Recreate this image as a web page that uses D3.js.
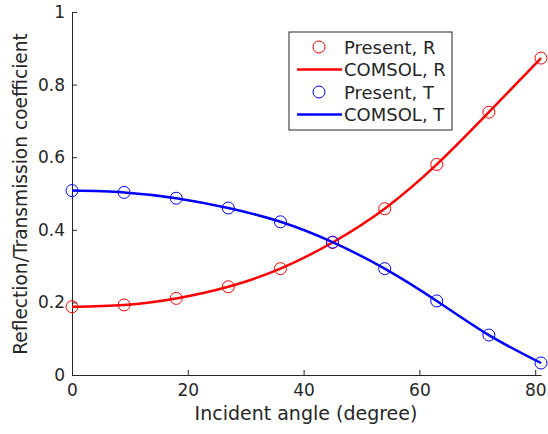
<!DOCTYPE html>
<html>
<head>
<meta charset="utf-8">
<script src="https://cdn.jsdelivr.net/npm/d3@7"></script>
<style>
    body { margin: 0; background: #fff; }
    svg text { font-family: "DejaVu Sans", sans-serif; fill: #262626; }
    .axis path, .axis line { stroke: #262626; }
</style>
</head>
<body>
<svg id="chart" width="548" height="434"></svg>
<script>
// incident angles (degree)
const angles = [0, 9, 18, 27, 36, 45, 54, 63, 72, 81];
// present method
const presentR = [0.188, 0.193, 0.211, 0.243, 0.293, 0.365, 0.458, 0.580, 0.724, 0.873];
const presentT = [0.508, 0.503, 0.487, 0.460, 0.422, 0.366, 0.293, 0.204, 0.110, 0.033];
// COMSOL reference
const comsolR = [0.188, 0.193, 0.211, 0.243, 0.293, 0.365, 0.458, 0.580, 0.724, 0.873];
const comsolT = [0.508, 0.503, 0.487, 0.460, 0.422, 0.366, 0.293, 0.204, 0.110, 0.033];
const xTicks = [0, 20, 40, 60, 80];
const yTicks = [0, 0.2, 0.4, 0.6, 0.8, 1];

const margin = {top: 12, right: 6, bottom: 59, left: 72};
const height = 434 - margin.top - margin.bottom;

const svg = d3.select("#chart");
const chart = svg.append("g").attr("transform", "translate(" + margin.left + "," + margin.top + ")");

const xScale = d3.scaleLinear().domain([0, 81]).range([0, 469]);
const yScale = d3.scaleLinear().domain([0, 1]).range([height, 0]);

chart.append("g")
    .attr("class", "x axis")
    .attr("transform", "translate(0," + height + ")")
    .call(d3.axisBottom(xScale).tickValues(xTicks).tickSizeInner(-5).tickSizeOuter(0).tickPadding(9))
    .call(g => g.selectAll("text").style("font-size", "17px"));

chart.append("g")
    .attr("class", "y axis")
    .call(d3.axisLeft(yScale).tickValues(yTicks).tickFormat(d3.format("~g")).tickSizeInner(-5).tickSizeOuter(0).tickPadding(7))
    .call(g => g.selectAll("text").style("font-size", "17px"));

chart.append("text")
    .attr("x", 234)
    .attr("y", height + 45)
    .attr("text-anchor", "middle")
    .style("font-size", "19px")
    .text("Incident angle (degree)");

chart.append("text")
    .attr("transform", "rotate(-90)")
    .attr("x", -(194 - margin.top))
    .attr("y", -45)
    .attr("text-anchor", "middle")
    .style("font-size", "18.6px")
    .text("Reflection/Transmission coefficient");

const line = d3.line()
    .x(d => xScale(d[0]))
    .y(d => yScale(d[1]))
    .curve(d3.curveNatural);

const series = [
    {name: "R", color: "#ff0000", present: presentR, comsol: comsolR},
    {name: "T", color: "#0000ff", present: presentT, comsol: comsolT}
];

series.forEach(s => {
    chart.append("path")
        .datum(angles.map((a, i) => [a, s.comsol[i]]))
        .attr("d", line)
        .attr("fill", "none")
        .attr("stroke", s.color)
        .attr("stroke-width", 2.5);
});

series.forEach(s => {
    chart.append("g").selectAll("circle")
        .data(angles.map((a, i) => [a, s.present[i]]))
        .enter().append("circle")
            .attr("cx", d => xScale(d[0]))
            .attr("cy", d => yScale(d[1]))
            .attr("r", 6)
            .attr("fill", "none")
            .attr("stroke", s.color)
            .attr("stroke-width", 1);
});

// legend
const legend = svg.append("g").attr("transform", "translate(289,32)");
legend.append("rect")
    .attr("width", 163).attr("height", 98)
    .attr("fill", "#fff").attr("stroke", "#262626").attr("stroke-width", 1);

const legendItems = [
    {label: "Present, R", color: "#ff0000", type: "marker"},
    {label: "COMSOL, R", color: "#ff0000", type: "line"},
    {label: "Present, T", color: "#0000ff", type: "marker"},
    {label: "COMSOL, T", color: "#0000ff", type: "line"}
];
legendItems.forEach((item, i) => {
    const y = 15 + i * 22.5;
    if (item.type === "marker") {
        legend.append("circle").attr("cx", 30).attr("cy", y).attr("r", 6)
            .attr("fill", "none").attr("stroke", item.color);
    } else {
        legend.append("line").attr("x1", 8).attr("x2", 53).attr("y1", y).attr("y2", y)
            .attr("stroke", item.color).attr("stroke-width", 2.5);
    }
    legend.append("text").attr("x", 55).attr("y", y + 6.5)
        .style("font-size", "18px").text(item.label);
});
</script>
</body>
</html>
